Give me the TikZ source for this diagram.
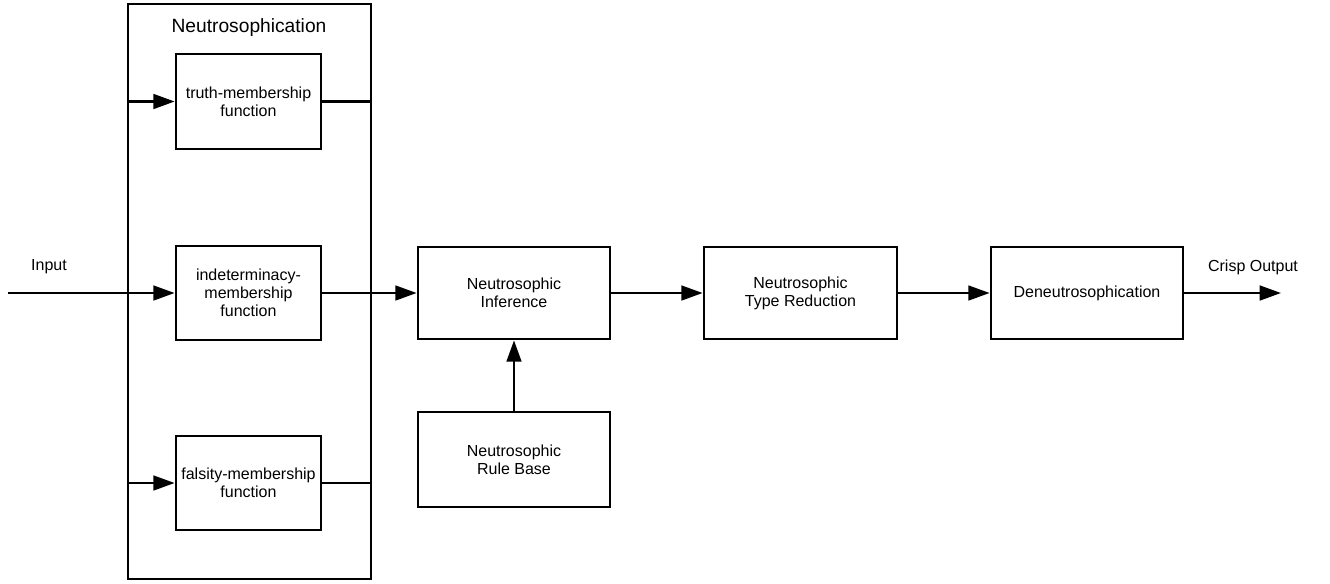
\documentclass[tikz,border=0pt]{standalone}
\usepackage{fontspec}
\setmainfont{Liberation Sans}
\usetikzlibrary{arrows.meta}
\begin{document}
\begin{tikzpicture}[x=0.75pt,y=-0.75pt,
  blk/.style={draw=black,line width=2pt,rectangle,inner sep=1pt,align=center,font=\fontsize{12}{13.5}\selectfont},
  arr/.style={line width=2pt,-{Triangle[length=16pt,width=11pt]}},
  ln/.style={line width=2pt},
  lbl/.style={font=\fontsize{12}{13.5}\selectfont,inner sep=0pt}]
\useasboundingbox (0,0) rectangle (1330,583);
\node[blk,minimum width=182.25pt,minimum height=431.25pt] (outer) at (249.5,291.5) {};
\node[lbl,font=\fontsize{14.4}{16}\selectfont] (title) at (249,28) {Neutrosophication};
\node[blk,minimum width=108.75pt,minimum height=71.25pt] (truth) at (248.5,101.5) {truth-membership\\function};
\node[blk,minimum width=108.75pt,minimum height=70.5pt] (indet) at (248.5,293) {indeterminacy-\\membership\\function};
\node[blk,minimum width=108.75pt,minimum height=70.5pt] (fals) at (248.5,483) {falsity-membership\\function};
\node[blk,minimum width=144pt,minimum height=69pt] (inf) at (514,293) {Neutrosophic\\Inference};
\node[blk,minimum width=144pt,minimum height=71.25pt] (rule) at (514,459.5) {Neutrosophic\\Rule Base};
\node[blk,minimum width=144.75pt,minimum height=69pt] (type) at (800.5,293) {Neutrosophic\\Type Reduction};
\node[blk,minimum width=144pt,minimum height=69pt] (deneut) at (1087,293) {Deneutrosophication};
\node[lbl] (inlbl) at (49,267) {Input};
\node[lbl] (outlbl) at (1253,267) {Crisp Output};
\coordinate (in) at (8,293);
\coordinate (out) at (1281,293);
\draw[arr] (in) -- (indet.west);
\draw[arr] (outer.west |- truth.west) -- (truth.west);
\draw[arr] (outer.west |- fals.west) -- (fals.west);
\draw[ln] (truth.east) -- (outer.east |- truth.east);
\draw[ln] (fals.east) -- (outer.east |- fals.east);
\draw[arr] (indet.east) -- (inf.west);
\draw[arr] (rule.north) -- (inf.south);
\draw[arr] (inf.east) -- (type.west);
\draw[arr] (type.east) -- (deneut.west);
\draw[arr] (deneut.east) -- (out);
\end{tikzpicture}
\end{document}
